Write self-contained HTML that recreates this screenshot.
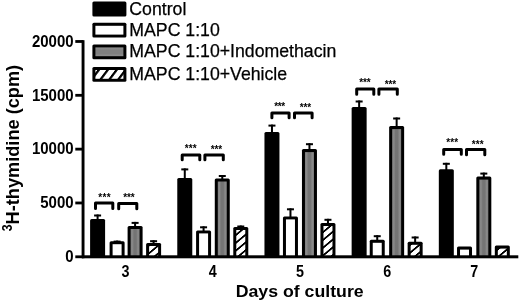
<!DOCTYPE html>
<html><head><meta charset="utf-8"><style>
html,body{margin:0;padding:0;background:#fff;width:520px;height:303px;overflow:hidden}
svg{display:block;filter:blur(0.45px)}
text{font-family:"Liberation Sans",sans-serif;fill:#000}
.st{font-size:10px;font-weight:bold}
.yt{font-size:15.8px;font-weight:bold}
.xt{font-size:15.6px;font-weight:bold}
.xl{font-size:17.3px;font-weight:bold}
.yl{font-size:17.6px;font-weight:bold}
.ys{font-size:14.5px;font-weight:bold}
.lg{font-size:17.7px;stroke:#000;stroke-width:0.25px}
</style></head><body>
<svg width="520" height="303" viewBox="0 0 520 303">
<defs>
<linearGradient id="gg" x1="0" y1="0" x2="1" y2="0">
<stop offset="0" stop-color="#7c7c7c"/><stop offset="0.18" stop-color="#8a8a8a"/><stop offset="0.38" stop-color="#747474"/><stop offset="0.62" stop-color="#747474"/><stop offset="0.82" stop-color="#8a8a8a"/><stop offset="1" stop-color="#7c7c7c"/></linearGradient>
<linearGradient id="gl" x1="0" y1="0" x2="0" y2="1">
<stop offset="0" stop-color="#909090"/><stop offset="0.3" stop-color="#808080"/><stop offset="0.7" stop-color="#808080"/><stop offset="1" stop-color="#909090"/></linearGradient>
<pattern id="hatch" patternUnits="userSpaceOnUse" x="3.1" y="0" width="9.3" height="10" patternTransform="skewX(-50)">
<rect width="9.3" height="10" fill="#fff"/><rect width="2.8" height="10" fill="#000"/></pattern>
<pattern id="hatch2" patternUnits="userSpaceOnUse" x="-1.2" y="0" width="8.9" height="10" patternTransform="skewX(-37)">
<rect width="8.9" height="10" fill="#fff"/><rect width="2.8" height="10" fill="#000"/></pattern>
</defs>
<rect x="96.60" y="214.50" width="2" height="5.40" fill="#000"/>
<rect x="94.10" y="214.50" width="7" height="2" fill="#000"/>
<rect x="90.10" y="218.90" width="15" height="37.90" fill="#000" rx="1.5"/>
<rect x="116.10" y="240.60" width="2" height="1.60" fill="#000"/>
<rect x="113.60" y="240.60" width="7" height="2" fill="#000"/>
<rect x="109.60" y="241.20" width="15" height="15.60" fill="#000" rx="1.5"/>
<rect x="112.60" y="244.20" width="9.00" height="12.60" fill="#fff"/>
<rect x="134.10" y="221.90" width="2" height="5.10" fill="#000"/>
<rect x="131.60" y="221.90" width="7" height="2" fill="#000"/>
<rect x="127.60" y="226.00" width="15" height="30.80" fill="#000" rx="1.5"/>
<rect x="130.60" y="229.00" width="9.00" height="27.80" fill="url(#gg)"/>
<rect x="152.60" y="240.20" width="2" height="3.80" fill="#000"/>
<rect x="150.10" y="240.20" width="7" height="2" fill="#000"/>
<rect x="146.10" y="243.00" width="15" height="13.80" fill="#000" rx="1.5"/>
<rect x="149.10" y="246.00" width="9.00" height="10.80" fill="url(#hatch)"/>
<rect x="183.78" y="168.40" width="2" height="10.70" fill="#000"/>
<rect x="181.28" y="168.40" width="7" height="2" fill="#000"/>
<rect x="177.28" y="178.10" width="15" height="78.70" fill="#000" rx="1.5"/>
<rect x="202.58" y="226.30" width="2" height="5.10" fill="#000"/>
<rect x="200.08" y="226.30" width="7" height="2" fill="#000"/>
<rect x="196.08" y="230.40" width="15" height="26.40" fill="#000" rx="1.5"/>
<rect x="199.08" y="233.40" width="9.00" height="23.40" fill="#fff"/>
<rect x="221.28" y="175.00" width="2" height="4.50" fill="#000"/>
<rect x="218.78" y="175.00" width="7" height="2" fill="#000"/>
<rect x="214.78" y="178.50" width="15" height="78.30" fill="#000" rx="1.5"/>
<rect x="217.78" y="181.50" width="9.00" height="75.30" fill="url(#gg)"/>
<rect x="239.78" y="225.50" width="2" height="2.50" fill="#000"/>
<rect x="237.28" y="225.50" width="7" height="2" fill="#000"/>
<rect x="233.28" y="227.00" width="15" height="29.80" fill="#000" rx="1.5"/>
<rect x="236.28" y="230.00" width="9.00" height="26.80" fill="url(#hatch)"/>
<rect x="270.96" y="124.60" width="2" height="8.40" fill="#000"/>
<rect x="268.46" y="124.60" width="7" height="2" fill="#000"/>
<rect x="264.46" y="132.00" width="15" height="124.80" fill="#000" rx="1.5"/>
<rect x="289.46" y="208.30" width="2" height="9.10" fill="#000"/>
<rect x="286.96" y="208.30" width="7" height="2" fill="#000"/>
<rect x="282.96" y="216.40" width="15" height="40.40" fill="#000" rx="1.5"/>
<rect x="285.96" y="219.40" width="9.00" height="37.40" fill="#fff"/>
<rect x="308.46" y="143.20" width="2" height="6.90" fill="#000"/>
<rect x="305.96" y="143.20" width="7" height="2" fill="#000"/>
<rect x="301.96" y="149.10" width="15" height="107.70" fill="#000" rx="1.5"/>
<rect x="304.96" y="152.10" width="9.00" height="104.70" fill="url(#gg)"/>
<rect x="326.96" y="218.80" width="2" height="5.20" fill="#000"/>
<rect x="324.46" y="218.80" width="7" height="2" fill="#000"/>
<rect x="320.46" y="223.00" width="15" height="33.80" fill="#000" rx="1.5"/>
<rect x="323.46" y="226.00" width="9.00" height="30.80" fill="url(#hatch)"/>
<rect x="358.14" y="100.50" width="2" height="7.60" fill="#000"/>
<rect x="355.64" y="100.50" width="7" height="2" fill="#000"/>
<rect x="351.64" y="107.10" width="15" height="149.70" fill="#000" rx="1.5"/>
<rect x="376.24" y="235.20" width="2" height="5.60" fill="#000"/>
<rect x="373.74" y="235.20" width="7" height="2" fill="#000"/>
<rect x="369.74" y="239.80" width="15" height="17.00" fill="#000" rx="1.5"/>
<rect x="372.74" y="242.80" width="9.00" height="14.00" fill="#fff"/>
<rect x="395.64" y="117.50" width="2" height="9.60" fill="#000"/>
<rect x="393.14" y="117.50" width="7" height="2" fill="#000"/>
<rect x="389.14" y="126.10" width="15" height="130.70" fill="#000" rx="1.5"/>
<rect x="392.14" y="129.10" width="9.00" height="127.70" fill="url(#gg)"/>
<rect x="414.14" y="236.50" width="2" height="6.30" fill="#000"/>
<rect x="411.64" y="236.50" width="7" height="2" fill="#000"/>
<rect x="407.64" y="241.80" width="15" height="15.00" fill="#000" rx="1.5"/>
<rect x="410.64" y="244.80" width="9.00" height="12.00" fill="url(#hatch)"/>
<rect x="445.32" y="162.80" width="2" height="7.40" fill="#000"/>
<rect x="442.82" y="162.80" width="7" height="2" fill="#000"/>
<rect x="438.82" y="169.20" width="15" height="87.60" fill="#000" rx="1.5"/>
<rect x="457.02" y="246.60" width="15" height="10.20" fill="#000" rx="1.5"/>
<rect x="460.02" y="249.60" width="9.00" height="7.20" fill="#fff"/>
<rect x="482.82" y="172.60" width="2" height="5.00" fill="#000"/>
<rect x="480.32" y="172.60" width="7" height="2" fill="#000"/>
<rect x="476.32" y="176.60" width="15" height="80.20" fill="#000" rx="1.5"/>
<rect x="479.32" y="179.60" width="9.00" height="77.20" fill="url(#gg)"/>
<rect x="494.82" y="245.60" width="15" height="11.20" fill="#000" rx="1.5"/>
<rect x="497.82" y="248.60" width="9.00" height="8.20" fill="url(#hatch)"/>
<path d="M95.50 208.50 V202.90 H112.80 V208.50" fill="none" stroke="#000" stroke-width="3.0" stroke-linejoin="round" stroke-linecap="round"/>
<path d="M118.70 208.80 V203.40 H136.80 V208.80" fill="none" stroke="#000" stroke-width="3.0" stroke-linejoin="round" stroke-linecap="round"/>
<text x="100.30" y="201.10" class="st" text-anchor="middle">*</text>
<text x="104.50" y="201.10" class="st" text-anchor="middle">*</text>
<text x="108.70" y="201.10" class="st" text-anchor="middle">*</text>
<text x="125.30" y="201.10" class="st" text-anchor="middle">*</text>
<text x="129.00" y="201.10" class="st" text-anchor="middle">*</text>
<text x="132.70" y="201.10" class="st" text-anchor="middle">*</text>
<path d="M182.20 159.80 V154.90 H199.80 V159.80" fill="none" stroke="#000" stroke-width="3.0" stroke-linejoin="round" stroke-linecap="round"/>
<path d="M204.90 159.80 V154.90 H223.30 V159.80" fill="none" stroke="#000" stroke-width="3.0" stroke-linejoin="round" stroke-linecap="round"/>
<text x="186.80" y="152.30" class="st" text-anchor="middle">*</text>
<text x="190.75" y="152.30" class="st" text-anchor="middle">*</text>
<text x="194.70" y="152.30" class="st" text-anchor="middle">*</text>
<text x="212.80" y="153.30" class="st" text-anchor="middle">*</text>
<text x="216.50" y="153.30" class="st" text-anchor="middle">*</text>
<text x="220.20" y="153.30" class="st" text-anchor="middle">*</text>
<path d="M271.90 117.80 V112.90 H289.10 V117.80" fill="none" stroke="#000" stroke-width="3.0" stroke-linejoin="round" stroke-linecap="round"/>
<path d="M294.50 117.80 V112.90 H312.10 V117.80" fill="none" stroke="#000" stroke-width="3.0" stroke-linejoin="round" stroke-linecap="round"/>
<text x="276.30" y="110.10" class="st" text-anchor="middle">*</text>
<text x="279.75" y="110.10" class="st" text-anchor="middle">*</text>
<text x="283.20" y="110.10" class="st" text-anchor="middle">*</text>
<text x="301.80" y="111.30" class="st" text-anchor="middle">*</text>
<text x="305.50" y="111.30" class="st" text-anchor="middle">*</text>
<text x="309.20" y="111.30" class="st" text-anchor="middle">*</text>
<path d="M356.70 94.30 V88.90 H373.80 V94.30" fill="none" stroke="#000" stroke-width="3.0" stroke-linejoin="round" stroke-linecap="round"/>
<path d="M378.90 94.30 V88.90 H397.30 V94.30" fill="none" stroke="#000" stroke-width="3.0" stroke-linejoin="round" stroke-linecap="round"/>
<text x="361.10" y="86.30" class="st" text-anchor="middle">*</text>
<text x="364.90" y="86.30" class="st" text-anchor="middle">*</text>
<text x="368.70" y="86.30" class="st" text-anchor="middle">*</text>
<text x="386.80" y="87.60" class="st" text-anchor="middle">*</text>
<text x="390.50" y="87.60" class="st" text-anchor="middle">*</text>
<text x="394.20" y="87.60" class="st" text-anchor="middle">*</text>
<path d="M443.70 154.30 V149.40 H461.30 V154.30" fill="none" stroke="#000" stroke-width="3.0" stroke-linejoin="round" stroke-linecap="round"/>
<path d="M466.50 154.80 V149.40 H484.80 V154.80" fill="none" stroke="#000" stroke-width="3.0" stroke-linejoin="round" stroke-linecap="round"/>
<text x="448.10" y="146.30" class="st" text-anchor="middle">*</text>
<text x="452.15" y="146.30" class="st" text-anchor="middle">*</text>
<text x="456.20" y="146.30" class="st" text-anchor="middle">*</text>
<text x="473.80" y="147.60" class="st" text-anchor="middle">*</text>
<text x="477.75" y="147.60" class="st" text-anchor="middle">*</text>
<text x="481.70" y="147.60" class="st" text-anchor="middle">*</text>
<rect x="81.6" y="40.2" width="2.9" height="218.00" fill="#000"/>
<rect x="81.9" y="255.3" width="436.40" height="3" fill="#000"/>
<rect x="75.3" y="40.08" width="8" height="2.8" fill="#000"/>
<text x="73.6" y="46.68" class="yt" text-anchor="end" textLength="41.70" lengthAdjust="spacingAndGlyphs">20000</text>
<rect x="75.3" y="93.91" width="8" height="2.8" fill="#000"/>
<text x="73.6" y="100.51" class="yt" text-anchor="end" textLength="41.70" lengthAdjust="spacingAndGlyphs">15000</text>
<rect x="75.3" y="147.74" width="8" height="2.8" fill="#000"/>
<text x="73.6" y="154.34" class="yt" text-anchor="end" textLength="41.70" lengthAdjust="spacingAndGlyphs">10000</text>
<rect x="75.3" y="201.57" width="8" height="2.8" fill="#000"/>
<text x="73.6" y="208.17" class="yt" text-anchor="end" textLength="33.36" lengthAdjust="spacingAndGlyphs">5000</text>
<rect x="75.3" y="255.40" width="8" height="2.8" fill="#000"/>
<text x="73.6" y="262.00" class="yt" text-anchor="end" textLength="8.34" lengthAdjust="spacingAndGlyphs">0</text>
<text transform="translate(125.60,277.2) scale(0.92,1)" class="xt" text-anchor="middle">3</text>
<text transform="translate(212.78,277.2) scale(0.92,1)" class="xt" text-anchor="middle">4</text>
<text transform="translate(299.96,277.2) scale(0.92,1)" class="xt" text-anchor="middle">5</text>
<text transform="translate(387.14,277.2) scale(0.92,1)" class="xt" text-anchor="middle">6</text>
<text transform="translate(474.32,277.2) scale(0.92,1)" class="xt" text-anchor="middle">7</text>
<text x="235.7" y="297.3" class="xl" textLength="128" lengthAdjust="spacingAndGlyphs">Days of culture</text>
<text transform="translate(18.7,224.4) rotate(-90)" class="yl" textLength="159.5" lengthAdjust="spacingAndGlyphs">H-thymidine (cpm)</text>
<text transform="translate(12,231.3) rotate(-90) scale(0.85,1)" class="ys">3</text>
<rect x="92.4" y="1.60" width="34" height="14.8" fill="#000" rx="1.5"/>
<text x="129.3" y="15.2" class="lg">Control</text>
<rect x="92.4" y="22.80" width="34" height="14.8" fill="#000" rx="1.5"/>
<rect x="95.40" y="25.80" width="28.00" height="8.80" fill="#fff"/>
<text x="129.3" y="36.3" class="lg">MAPC 1:10</text>
<rect x="92.4" y="44.40" width="34" height="14.8" fill="#000" rx="1.5"/>
<rect x="95.40" y="47.40" width="28.00" height="8.80" fill="url(#gl)"/>
<text x="129.3" y="57.3" class="lg">MAPC 1:10+Indomethacin</text>
<rect x="92.4" y="67.00" width="34" height="14.8" fill="#000" rx="1.5"/>
<rect x="95.40" y="70.00" width="28.00" height="8.80" fill="url(#hatch2)"/>
<text x="129.3" y="79.9" class="lg">MAPC 1:10+Vehicle</text>
</svg>
</body></html>
